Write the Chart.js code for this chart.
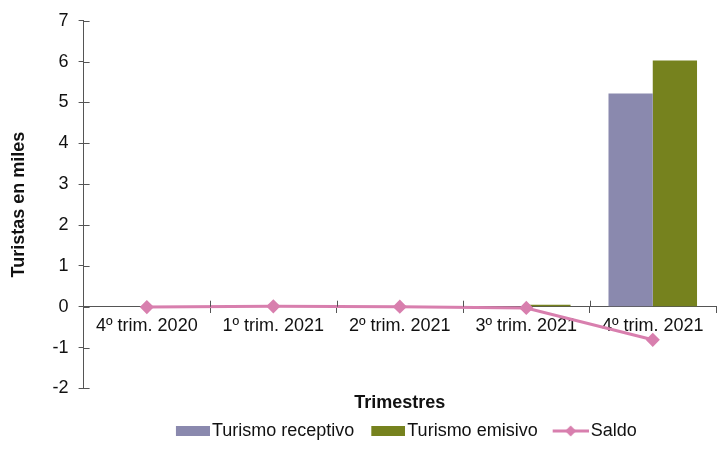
<!DOCTYPE html>
<html><head><meta charset="utf-8">
<script src="https://cdn.jsdelivr.net/npm/chart.js@4"></script>
<style>html,body{margin:0;padding:0;background:#fff}#w{width:725px;height:450px}</style>
</head><body><div id="w"><canvas id="c"></canvas></div>
<script>
const categories = ["4º trim. 2020","1º trim. 2021","2º trim. 2021","3º trim. 2021","4º trim. 2021"];
const receptivo = [0.01, 0.0, 0.0, 0.01, 5.22];
const emisivo = [0.02, 0.01, 0.0, 0.05, 6.03];
const saldo = [-0.01, 0.01, 0.0, -0.03, -0.81];
const yTicks = [-2,-1,0,1,2,3,4,5,6,7];

const FONT = "'Liberation Sans', Arial, sans-serif";
const FS = 18;
const PURPLE = '#8A89AE', GREEN = '#76821E', PINK = '#D87FAE', AX = '#555';
const PSW = 40;

function mk(){const c=document.createElement('canvas');c.width=PSW+14;c.height=12;return c;}
function boxImg(color){const c=mk();const x=c.getContext('2d');x.fillStyle=color;x.fillRect(c.width-34,1,34,10);return c;}
function lineImg(){const c=mk();const x=c.getContext('2d');const a=c.width-36,b=c.width;x.strokeStyle=PINK;x.lineWidth=3;x.beginPath();x.moveTo(a,6);x.lineTo(b,6);x.stroke();const m=(a+b)/2;x.fillStyle=PINK;x.beginPath();x.moveTo(m,0.5);x.lineTo(m+5.5,6);x.lineTo(m,11.5);x.lineTo(m-5.5,6);x.closePath();x.fill();return c;}

const innerTicks = {
  id:'innerTicks',
  afterDatasetsDraw(chart){
    const ctx = chart.ctx, xs = chart.scales.x, ys = chart.scales.y;
    const y0 = ys.getPixelForValue(0), x0 = ys.left + ys.width;
    ctx.save(); ctx.strokeStyle = AX; ctx.lineWidth = 1; ctx.beginPath();
    for (let i = 1; i < categories.length; i++) {
      const px = Math.round((xs.getPixelForTick(i-1) + xs.getPixelForTick(i))/2) + 0.5;
      ctx.moveTo(px, y0 - 6); ctx.lineTo(px, y0);
    }
    yTicks.forEach(v => { const py = Math.round(ys.getPixelForValue(v)) + 0.5; ctx.moveTo(x0, py); ctx.lineTo(x0 + 6, py); });
    ctx.stroke(); ctx.restore();
  }
};

new Chart(document.getElementById('c'), {
  data: {
    labels: categories,
    datasets: [
      {type:'line', label:'Saldo', data:saldo, borderColor:PINK, backgroundColor:PINK, borderWidth:3, pointStyle:'rectRot', pointRadius:5, pointHoverRadius:5, order:0},
      {type:'bar', label:'Turismo receptivo', data:receptivo, backgroundColor:PURPLE, categoryPercentage:0.7, barPercentage:1.0, order:1},
      {type:'bar', label:'Turismo emisivo', data:emisivo, backgroundColor:GREEN, categoryPercentage:0.7, barPercentage:1.0, order:2}
    ]
  },
  plugins:[innerTicks],
  options: {
    responsive:true, maintainAspectRatio:false, animation:false,
    layout:{padding:{left:8,right:9,top:10,bottom:0}},
    plugins:{
      tooltip:{enabled:false},
      legend:{position:'bottom', fullSize:false, labels:{
        font:{family:FONT,size:FS}, color:'#111', usePointStyle:true, pointStyleWidth:PSW, padding:4,
        generateLabels:(chart)=>[
          {text:'Turismo receptivo', pointStyle:boxImg(PURPLE), datasetIndex:1, fontColor:'#111', lineWidth:0, strokeStyle:'transparent', fillStyle:PURPLE},
          {text:'Turismo emisivo', pointStyle:boxImg(GREEN), datasetIndex:2, fontColor:'#111', lineWidth:0, strokeStyle:'transparent', fillStyle:GREEN},
          {text:'Saldo', pointStyle:lineImg(), datasetIndex:0, fontColor:'#111', lineWidth:0, strokeStyle:'transparent', fillStyle:PINK}
        ]
      }}
    },
    scales:{
      x:{type:'category', position:{y:0}, offset:true,
        grid:{display:true, drawOnChartArea:false, offset:true, tickLength:6, color:AX},
        border:{display:true, color:AX, width:1},
        ticks:{font:{family:FONT,size:FS}, color:'#111', maxRotation:0, padding:3}
      },
      x2:{type:'category', position:'bottom', labels:categories, offset:true,
        grid:{display:false}, border:{display:false}, ticks:{display:false},
        title:{display:true, text:'Trimestres', font:{family:FONT,size:FS,weight:'bold'}, color:'#111', padding:{top:-4,bottom:4}}
      },
      y:{min:-2, max:7,
        afterBuildTicks:(s)=>{s.ticks=yTicks.map(v=>({value:v}));},
        grid:{display:true, drawOnChartArea:false, tickLength:5, color:AX},
        border:{display:true, color:AX, width:1},
        ticks:{font:{family:FONT,size:FS}, color:'#111', padding:10},
        title:{display:true, text:'Turistas en miles', font:{family:FONT,size:FS,weight:'bold'}, color:'#111', padding:{top:0,bottom:13}}
      }
    }
  }
});
</script></body></html>
